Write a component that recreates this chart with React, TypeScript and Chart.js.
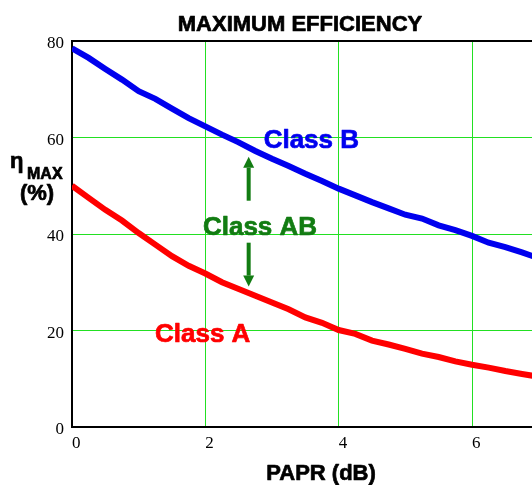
import React, { useEffect, useRef } from "react";
import { Chart, registerables } from "chart.js";

Chart.register(...registerables);

// PAPR (dB)
const papr = [0, 0.25, 0.5, 0.75, 1, 1.25, 1.5, 1.75, 2, 2.25, 2.5, 2.75, 3, 3.25, 3.5, 3.75, 4, 4.25, 4.5, 4.75, 5, 5.25, 5.5, 5.75, 6, 6.25, 6.5, 6.75, 7];
// Max efficiency (%) - Class B
const classB = [78.5, 76.5, 74.2, 72.0, 69.6, 68.0, 66.0, 64.0, 62.3, 60.6, 59.0, 57.2, 55.6, 54.1, 52.5, 51.0, 49.4, 48.0, 46.6, 45.3, 44.0, 43.2, 41.8, 40.8, 39.6, 38.2, 37.3, 36.2, 35.0];
// Max efficiency (%) - Class A
const classA = [50.0, 47.5, 45.0, 42.8, 40.2, 37.8, 35.4, 33.4, 31.8, 30.0, 28.6, 27.2, 25.8, 24.4, 22.7, 21.6, 20.1, 19.3, 17.9, 17.1, 16.2, 15.2, 14.5, 13.6, 12.9, 12.3, 11.6, 11.0, 10.4];

const xTickValues = [0, 2, 4, 6];
const yTickValues = [0, 20, 40, 60, 80];

const BLUE = "#0000ee";
const RED = "#ff0000";
const DARKGREEN = "#127c12";
const GRID = "#22e022";
const SANS = '"Liberation Sans", Arial, sans-serif';
const SERIF = '"Liberation Serif", "Times New Roman", serif';

// annotation labels (data coordinates)
const labels = [
  { text: "Class B", x: 3.59, y: 57.8, color: BLUE },
  { text: "Class AB", x: 2.82, y: 39.8, color: DARKGREEN },
  { text: "Class A", x: 1.96, y: 17.7, color: RED },
];
// arrows: x, from y, to y (tip)
const arrows = [
  { x: 2.65, from: 46.9, to: 56.0 },
  { x: 2.65, from: 38.2, to: 29.1 },
];

function boldText(ctx: any, text: string, x: number, y: number, color: string) {
  ctx.fillStyle = color;
  ctx.strokeStyle = color;
  ctx.lineWidth = 0.7;
  ctx.lineJoin = "round";
  ctx.fillText(text, x, y);
  ctx.strokeText(text, x, y);
}

const overlay = {
  id: "overlay",
  afterDraw(chart: any) {
    const { ctx, chartArea, scales } = chart;
    const xs = scales.x;
    const ys = scales.y;
    ctx.save();
    // top border
    ctx.strokeStyle = "#000";
    ctx.lineWidth = 2;
    ctx.beginPath();
    ctx.moveTo(chartArea.left - 1, chartArea.top);
    ctx.lineTo(chartArea.right, chartArea.top);
    ctx.stroke();

    // title and x title
    ctx.textBaseline = "alphabetic";
    ctx.textAlign = "center";
    ctx.font = `bold 22px ${SANS}`;
    boldText(ctx, "MAXIMUM EFFICIENCY", (chartArea.left + chartArea.right) / 2 - 2, 31, "#000");
    boldText(ctx, "PAPR (dB)", 321, 480, "#000");

    // y title
    ctx.textAlign = "left";
    ctx.font = `bold 22px ${SANS}`;
    boldText(ctx, "η", 10, 168, "#000");
    ctx.font = `bold 16px ${SANS}`;
    boldText(ctx, "MAX", 27, 179, "#000");
    ctx.textAlign = "center";
    ctx.font = `bold 22px ${SANS}`;
    boldText(ctx, "(%)", 37, 200, "#000");

    // labels
    ctx.font = `bold 26px ${SANS}`;
    for (const l of labels) {
      boldText(ctx, l.text, xs.getPixelForValue(l.x), ys.getPixelForValue(l.y), l.color);
    }

    // arrows
    ctx.strokeStyle = DARKGREEN;
    ctx.fillStyle = DARKGREEN;
    for (const a of arrows) {
      const px = xs.getPixelForValue(a.x);
      const y0 = ys.getPixelForValue(a.from);
      const y1 = ys.getPixelForValue(a.to);
      const dir = y1 < y0 ? -1 : 1;
      const head = 11;
      ctx.lineWidth = 4;
      ctx.beginPath();
      ctx.moveTo(px, y0);
      ctx.lineTo(px, y1 - dir * head);
      ctx.stroke();
      ctx.beginPath();
      ctx.moveTo(px, y1);
      ctx.lineTo(px - 5.5, y1 - dir * head);
      ctx.lineTo(px + 5.5, y1 - dir * head);
      ctx.closePath();
      ctx.fill();
    }
    ctx.restore();
  },
};

export default function App() {
  const ref = useRef<HTMLCanvasElement>(null);
  useEffect(() => {
    document.body.style.margin = "0";
    const canvas = ref.current;
    if (!canvas) return;
    const chart = new Chart(canvas, {
      type: "line",
      data: {
        datasets: [
          {
            label: "Class B",
            data: papr.map((p, i) => ({ x: p, y: classB[i] })),
            borderColor: BLUE,
            borderWidth: 6,
            pointRadius: 0,
            tension: 0,
          },
          {
            label: "Class A",
            data: papr.map((p, i) => ({ x: p, y: classA[i] })),
            borderColor: RED,
            borderWidth: 6,
            pointRadius: 0,
            tension: 0,
          },
        ],
      },
      options: {
        animation: false,
        responsive: false,
        events: [],
        layout: { padding: { top: 41, left: 0, right: 0, bottom: 0 } },
        plugins: { legend: { display: false }, title: { display: false }, tooltip: { enabled: false } },
        scales: {
          x: {
            type: "linear",
            min: 0,
            max: 6.9,
            afterBuildTicks: (s: any) => {
              s.ticks = xTickValues.map((v) => ({ value: v }));
            },
            afterFit: (s: any) => {
              s.height = 58;
            },
            grid: {
              color: (c: any) => (c.tick && c.tick.value === 0 ? "rgba(0,0,0,0)" : GRID),
              lineWidth: 1,
              drawTicks: false,
            },
            border: { color: "#000", width: 2 },
            ticks: {
              align: "start",
              maxRotation: 0,
              padding: 6,
              color: "#000",
              font: { family: SERIF, size: 17 },
            },
          },
          y: {
            type: "linear",
            min: 0,
            max: 80,
            afterBuildTicks: (s: any) => {
              s.ticks = yTickValues.map((v) => ({ value: v }));
            },
            afterFit: (s: any) => {
              s.width = 72;
            },
            grid: {
              color: (c: any) => (c.tick && (c.tick.value === 0 || c.tick.value === 80) ? "rgba(0,0,0,0)" : GRID),
              lineWidth: 1,
              drawTicks: false,
            },
            border: { color: "#000", width: 2 },
            ticks: {
              padding: 8,
              labelOffset: 3,
              color: "#000",
              font: { family: SERIF, size: 17 },
            },
          },
        },
      },
      plugins: [overlay],
    } as any);
    return () => chart.destroy();
  }, []);
  return (
    <div style={{ width: 532, height: 485 }}>
      <canvas ref={ref} width={532} height={485} style={{ display: "block" }} />
    </div>
  );
}
